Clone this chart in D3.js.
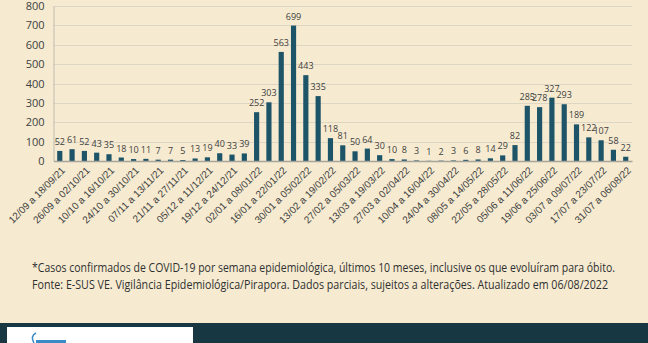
<!DOCTYPE html>
<html><head><meta charset="utf-8">
<script src="https://cdn.jsdelivr.net/npm/d3@7"></script>
<style>
html,body{margin:0;padding:0;background:#f6ebd0;}
svg{display:block;font-family:"Liberation Sans Narrow","Open Sans",sans-serif;}
</style></head>
<body>
<svg id="c" width="648" height="343"></svg>
<script>
const categories = [
"12/09 a 18/09/21","19/09 a 25/09/21","26/09 a 02/10/21","03/10 a 09/10/21","10/10 a 16/10/21","17/10 a 23/10/21",
"24/10 a 30/10/21","31/10 a 06/11/21","07/11 a 13/11/21","14/11 a 20/11/21","21/11 a 27/11/21","28/11 a 04/12/21",
"05/12 a 11/12/21","12/12 a 18/12/21","19/12 a 24/12/21","26/12 a 01/01/22","02/01 a 08/01/22","09/01 a 15/01/22",
"16/01 a 22/01/22","23/01 a 29/01/22","30/01 a 05/02/22","06/02 a 12/02/22","13/02 a 19/02/22","20/02 a 26/02/22",
"27/02 a 05/03/22","06/03 a 12/03/22","13/03 a 19/03/22","20/03 a 26/03/22","27/03 a 02/04/22","03/04 a 09/04/22",
"10/04 a 16/04/22","17/04 a 23/04/22","24/04 a 30/04/22","01/05 a 07/05/22","08/05 a 14/05/22","15/05 a 21/05/22",
"22/05 a 28/05/22","29/05 a 04/06/22","05/06 a 11/06/22","12/06 a 18/06/22","19/06 a 25/06/22","26/06 a 02/07/22",
"03/07 a 09/07/22","10/07 a 16/07/22","17/07 a 23/07/22","24/07 a 30/07/22","31/07 a 06/08/22"];
const cases = [52,61,52,43,35,18,10,11,7,7,5,13,19,40,33,39,252,303,563,699,443,335,118,81,50,64,30,10,8,3,1,2,3,6,8,14,29,82,285,278,327,293,189,122,107,58,22];
const yTicks = [0,100,200,300,400,500,600,700,800];
const footnotes = [
"*Casos confirmados de COVID-19 por semana epidemiológica, últimos 10 meses, inclusive os que evoluíram para óbito.",
"Fonte: E-SUS VE. Vigilância Epidemiológica/Pirapora. Dados parciais, sujeitos a alterações. Atualizado em 06/08/2022"];

const svg = d3.select("#c");
const W = 648, H = 343;
const m = {left:53.5};
const x = d3.scaleBand().domain(categories).range([m.left, 632]).paddingInner(0.58).paddingOuter(0.3);
const y = d3.scaleLinear().domain([0,800]).range([161, 6]);

svg.append("rect").attr("width",W).attr("height",H).attr("fill","#f6ebd0");

svg.append("g").selectAll("line").data(yTicks.slice(1)).join("line")
  .attr("x1",m.left).attr("x2",632).attr("y1",d=>Math.round(y(d))+0.5).attr("y2",d=>Math.round(y(d))+0.5)
  .attr("stroke","#ddd6c4").attr("stroke-width",1);

const ya = svg.append("g").attr("transform",`translate(${m.left},0)`)
  .call(d3.axisLeft(y).tickValues(yTicks).tickSize(0).tickPadding(9));
ya.select(".domain").attr("stroke","#bfbab0");
ya.selectAll("text").attr("font-size",11).attr("fill","#404040").attr("font-family","'Open Sans',sans-serif");

svg.append("g").selectAll("rect").data(cases).join("rect")
  .attr("x",(d,i)=>x(categories[i])).attr("width",x.bandwidth())
  .attr("y",d=>y(d)).attr("height",d=>y(0)-y(d)).attr("fill","#1d5468");

svg.append("g").selectAll("text").data(cases).join("text")
  .attr("x",(d,i)=>x(categories[i])+x.bandwidth()/2).attr("y",d=>y(d)-6)
  .attr("text-anchor","middle").attr("font-size",9).attr("fill","#404040")
  .attr("font-family","'Open Sans',sans-serif")
  .text(d=>d);

const xa = svg.append("g").attr("transform",`translate(0,${y(0)})`)
  .call(d3.axisBottom(x).tickValues(categories.filter((c,i)=>i%2===0)).tickSize(0).tickPadding(0));
xa.select(".domain").attr("stroke","#a8a49c").attr("stroke-width",1.5);
xa.selectAll("text").attr("font-size",10).attr("fill","#404040")
  .attr("text-anchor","end").attr("dy","0").attr("dx","0")
  .attr("transform","translate(6,10) rotate(-45)");

svg.append("g").selectAll("text").data(footnotes).join("text")
  .attr("x",32).attr("y",(d,i)=>272+i*17).attr("font-size",12.5).attr("fill","#303030")
  .attr("textLength",(d,i)=>i===0?583:576).attr("lengthAdjust","spacingAndGlyphs")
  .text(d=>d);

svg.append("rect").attr("x",0).attr("y",323).attr("width",W).attr("height",20).attr("fill","#173843");
svg.append("rect").attr("x",7).attr("y",327).attr("width",186).attr("height",16).attr("fill","#ffffff");
svg.append("path").attr("d","M34,343 Q30,336 36,333").attr("fill","none").attr("stroke","#3a8cc8").attr("stroke-width",1.5);
svg.append("rect").attr("x",36).attr("y",340).attr("width",30).attr("height",3).attr("fill","#3a8cc8");
</script>
</body></html>
